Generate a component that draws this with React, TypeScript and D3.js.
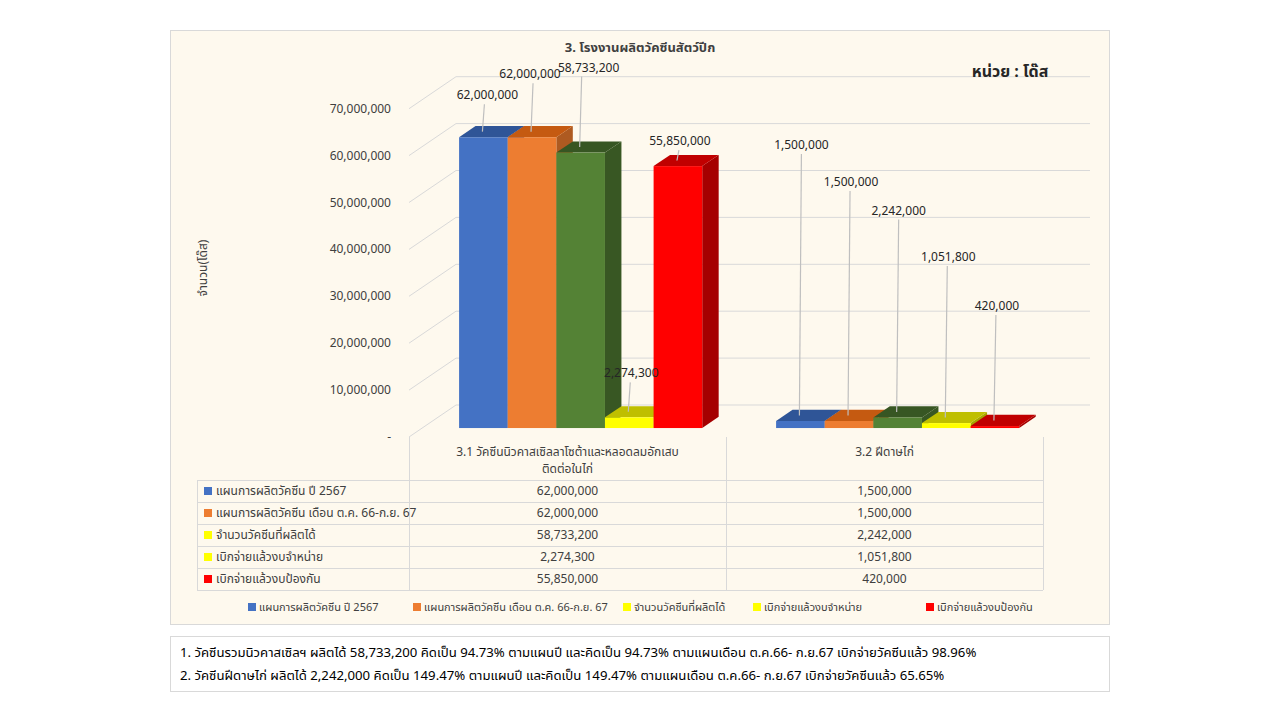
import React from "react";
import * as d3 from "d3";

const categories = [
  ["3.1 วัคซีนนิวคาสเซิลลาโซต้าและหลอดลมอักเสบ", "ติดต่อในไก่"],
  ["3.2 ฝีดาษไก่"],
];
const seriesNames = [
  "แผนการผลิตวัคซีน ปี 2567",
  "แผนการผลิตวัคซีน เดือน ต.ค. 66-ก.ย. 67",
  "จำนวนวัคซีนที่ผลิตได้",
  "เบิกจ่ายแล้วงบจำหน่าย",
  "เบิกจ่ายแล้วงบป้องกัน",
];
const plan2567 = [62000000, 1500000];
const planMonths = [62000000, 1500000];
const produced = [58733200, 2242000];
const paidSale = [2274300, 1051800];
const paidPrevent = [55850000, 420000];
const seriesValues = [plan2567, planMonths, produced, paidSale, paidPrevent];
const yTicks = [0, 10000000, 20000000, 30000000, 40000000, 50000000, 60000000, 70000000];

const barFront = ["#4472C4", "#ED7D31", "#548235", "#FFFF00", "#FF0000"];
const barTop = ["#2F5597", "#C55A11", "#375623", "#BFBF00", "#C00000"];
const barSide = ["#2F528F", "#AE5A21", "#385723", "#A6A600", "#A50000"];
const legendColors = ["#4472C4", "#ED7D31", "#FFFF00", "#FFFF00", "#FF0000"];

// label placement (pixel offsets above bar top / horizontal nudge), layout only
const labelRise = [
  [42, 276],
  [63, 239],
  [85, 207],
  [44, 166],
  [25, 120],
];
const labelShift = [
  [4, 1],
  [-2, 2],
  [8, 1],
  [2, 2],
  [2, 2],
];

const notes = [
  "1. วัคซีนรวมนิวคาสเซิลฯ ผลิตได้ 58,733,200 คิดเป็น 94.73% ตามแผนปี และคิดเป็น 94.73% ตามแผนเดือน ต.ค.66- ก.ย.67  เบิกจ่ายวัคซีนแล้ว 98.96%",
  "2. วัคซีนฝีดาษไก่  ผลิตได้ 2,242,000 คิดเป็น 149.47% ตามแผนปี และคิดเป็น 149.47% ตามแผนเดือน ต.ค.66- ก.ย.67 เบิกจ่ายวัคซีนแล้ว 65.65%",
];

const FONT = "Tahoma, 'Noto Sans Thai', 'Leelawadee UI', 'Noto Sans', sans-serif";
const fmt = d3.format(",");

export default function App() {
  const X0 = 409, X1 = 1043;
  const DX = 47, DY = -32;
  const F0 = 0.28, F1 = 0.63;
  const y = d3.scaleLinear().domain([0, 70000000]).range([437, 108.7]);
  const xCat = d3.scaleBand<number>().domain([0, 1]).range([X0, X1]);
  const groupFrac = 0.767;
  const xSer = d3
    .scaleBand<number>()
    .domain(d3.range(seriesNames.length))
    .range([0, xCat.bandwidth() * groupFrac]);
  const groupOffset = (xCat.bandwidth() * (1 - groupFrac)) / 2;

  const fdx = DX * F0, fdy = DY * F0;
  const ddx = DX * (F1 - F0), ddy = DY * (F1 - F0);

  const bars: React.ReactNode[] = [];
  const labels: React.ReactNode[] = [];
  categories.forEach((_, ci) => {
    seriesValues.forEach((vals, si) => {
      const v = vals[ci];
      const x = (xCat(ci) as number) + groupOffset + (xSer(si) as number) + fdx;
      const w = xSer.bandwidth();
      const yb = y(0) + fdy;
      const yt = y(v) + fdy;
      bars.push(
        <g key={`b${ci}-${si}`}>
          <polygon
            points={`${x + w},${yt} ${x + w + ddx},${yt + ddy} ${x + w + ddx},${yb + ddy} ${x + w},${yb}`}
            fill={barSide[si]}
          />
          <polygon
            points={`${x},${yt} ${x + w},${yt} ${x + w + ddx},${yt + ddy} ${x + ddx},${yt + ddy}`}
            fill={barTop[si]}
          />
          <rect x={x} y={yt} width={w} height={Math.max(0, yb - yt)} fill={barFront[si]} />
        </g>
      );
      const lx = x + w / 2 + labelShift[si][ci];
      const ly = yt - labelRise[si][ci];
      labels.push(
        <g key={`l${ci}-${si}`}>
          <line
            x1={x + w / 2 + 1}
            y1={ly + 9}
            x2={x + w / 2 - 1}
            y2={yt + ddy / 2}
            stroke="#BFBFBF"
            strokeWidth={1.2}
          />
          <text x={lx} y={ly} textAnchor="middle" dominantBaseline="central" fontSize={12} fill="#262626">
            {fmt(v)}
          </text>
        </g>
      );
    });
  });

  const rowTop = 480, rowH = 22;
  const tableLeft = 197;
  const colCenters = [0, 1].map((c) => (xCat(c) as number) + xCat.bandwidth() / 2);

  const legendX = [248, 413, 623, 753, 926];

  return (
    <svg width={1280} height={720} style={{ position: "absolute", left: 0, top: 0, fontFamily: FONT }}>
      <rect x={0} y={0} width={1280} height={720} fill="#FFFFFF" />
      <rect x={170.5} y={30.5} width={939} height={594} fill="#FEF9EE" stroke="#D9D9D9" />

      {/* walls gridlines */}
      {yTicks.map((t) => (
        <g key={`g${t}`}>
          <line x1={X0} y1={y(t)} x2={X0 + DX} y2={y(t) + DY} stroke="#D9D9D9" strokeWidth={1} />
          <line x1={X0 + DX} y1={y(t) + DY} x2={X1 + DX} y2={y(t) + DY} stroke="#D9D9D9" strokeWidth={1} />
        </g>
      ))}

      {/* y tick labels */}
      {yTicks.map((t) => (
        <text key={`t${t}`} x={391} y={y(t)} textAnchor="end" dominantBaseline="central" fontSize={12} fill="#404040">
          {t === 0 ? "-" : fmt(t)}
        </text>
      ))}
      <text
        transform={`translate(203,268) rotate(-90)`}
        textAnchor="middle"
        dominantBaseline="central"
        fontSize={12}
        fill="#404040"
      >
        จำนวน(โด๊ส)
      </text>

      {bars}
      {labels}

      <text x={640} y={48} textAnchor="middle" dominantBaseline="central" fontSize={13} fontWeight="bold" fill="#404040">
        3. โรงงานผลิตวัคซีนสัตว์ปีก
      </text>
      <text x={1010} y={72} textAnchor="middle" dominantBaseline="central" fontSize={16} fontWeight="bold" fill="#262626">
        หน่วย : โด๊ส
      </text>

      {/* data table */}
      <g stroke="#D9D9D9" strokeWidth={1}>
        {[X0, X0 + xCat.bandwidth(), X1].map((xx, i) => (
          <line key={`v${i}`} x1={xx + 0.5} y1={437} x2={xx + 0.5} y2={rowTop + rowH * 5} />
        ))}
        <line x1={tableLeft + 0.5} y1={rowTop} x2={tableLeft + 0.5} y2={rowTop + rowH * 5} />
        {d3.range(6).map((r) => (
          <line key={`h${r}`} x1={tableLeft} y1={rowTop + r * rowH + 0.5} x2={X1} y2={rowTop + r * rowH + 0.5} />
        ))}
      </g>
      {categories.map((lines, ci) => (
        <text key={`c${ci}`} x={colCenters[ci]} textAnchor="middle" fontSize={12} fill="#404040">
          {lines.map((ln, li) => (
            <tspan key={li} x={colCenters[ci]} y={456 + li * 17}>
              {ln}
            </tspan>
          ))}
        </text>
      ))}
      {seriesNames.map((name, si) => {
        const cy = rowTop + si * rowH + rowH / 2;
        return (
          <g key={`r${si}`}>
            <rect x={204} y={cy - 4} width={8} height={8} fill={legendColors[si]} />
            <text x={216} y={cy} dominantBaseline="central" fontSize={12} fill="#404040">
              {name}
            </text>
            {categories.map((_, ci) => (
              <text
                key={ci}
                x={colCenters[ci]}
                y={cy}
                textAnchor="middle"
                dominantBaseline="central"
                fontSize={12}
                fill="#404040"
              >
                {fmt(seriesValues[si][ci])}
              </text>
            ))}
          </g>
        );
      })}

      {/* bottom legend */}
      {seriesNames.map((name, si) => (
        <g key={`lg${si}`}>
          <rect x={legendX[si]} y={603} width={8} height={8} fill={legendColors[si]} />
          <text x={legendX[si] + 11} y={607} dominantBaseline="central" fontSize={11} fill="#404040">
            {name}
          </text>
        </g>
      ))}

      {/* notes */}
      <rect x={170.5} y={636.5} width={939} height={55} fill="#FFFFFF" stroke="#D9D9D9" />
      {notes.map((n, i) => (
        <text key={`n${i}`} x={180} y={653 + i * 23} dominantBaseline="central" fontSize={13.2} fill="#000">
          {n}
        </text>
      ))}
    </svg>
  );
}
